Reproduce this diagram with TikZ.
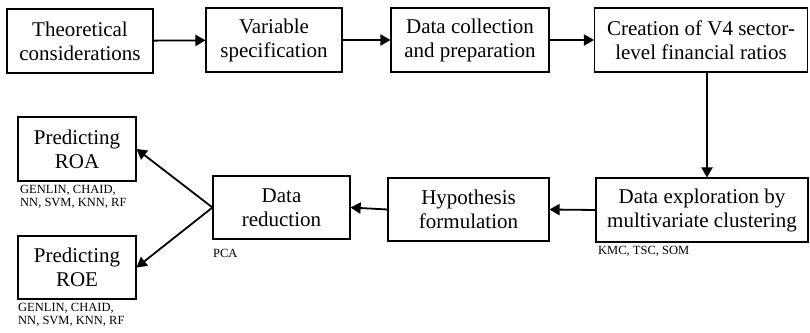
\documentclass[tikz,border=0pt]{standalone}
\usepackage{fontspec}
\setmainfont{Liberation Serif}
\usetikzlibrary{calc}
\usetikzlibrary{arrows}

\begin{document}
\begin{tikzpicture}[x=1pt, y=-1pt,
  box/.style={draw, line width=1.1pt, align=center, inner sep=0pt, font=\fontsize{21}{24}\selectfont},
  note/.style={anchor=north west, inner sep=0pt, align=left, font=\fontsize{12.5}{13.5}\selectfont},
  flow/.style={->, >=triangle 60, line width=1.8pt}]
\useasboundingbox (0,0) rectangle (810,332);

% top row
\node (THEORY) at (80,41) [box, minimum width=146pt, minimum height=64pt] {Theoretical\\considerations};
\node (VARSPEC) at (274,40) [box, minimum width=136pt, minimum height=64pt] {Variable\\specification};
\node (DATACOL) at (470,40) [box, minimum width=158pt, minimum height=64pt] {Data collection\\and preparation};
\node (RATIOS) at (701,40) [box, minimum width=213pt, minimum height=64pt] {Creation of V4 sector-\\level financial ratios};

% bottom row
\node (EXPLORE) at (702,210) [box, minimum width=212pt, minimum height=64pt] {Data exploration by\\multivariate clustering};
\node (HYPO) at (468.5,209.5) [box, minimum width=161pt, minimum height=63pt] {Hypothesis\\formulation};
\node (REDUCE) at (281.5,207.5) [box, minimum width=137pt, minimum height=63pt] {Data\\reduction};
\node (ROA) at (77,149) [box, minimum width=118pt, minimum height=64pt] {Predicting\\ROA};
\node (ROE) at (77,267.5) [box, minimum width=118pt, minimum height=63pt] {Predicting\\ROE};

% method notes
\node (KMC) at (598,246) [note] {KMC, TSC, SOM};
\node (PCA) at (213,249) [note] {PCA};
\node (ROAMETH) at (20,185) [note] {GENLIN, CHAID,\\NN, SVM, KNN, RF};
\node (ROEMETH) at (18,303) [note] {GENLIN, CHAID,\\NN, SVM, KNN, RF};

\draw [flow] (THEORY) -- (VARSPEC);
\draw [flow] (VARSPEC) -- (DATACOL);
\draw [flow] (DATACOL) -- (RATIOS);
\draw [flow] ([xshift=6pt]RATIOS.south) -- ([xshift=5pt]EXPLORE.north);
\draw [flow] (EXPLORE.west) -- (HYPO.east);
\draw [flow] (HYPO.west) -- (REDUCE.east);
\draw [flow] (REDUCE.west) -- (ROA.east);
\draw [flow] (REDUCE.west) -- (ROE.east);

\end{tikzpicture}
\end{document}
